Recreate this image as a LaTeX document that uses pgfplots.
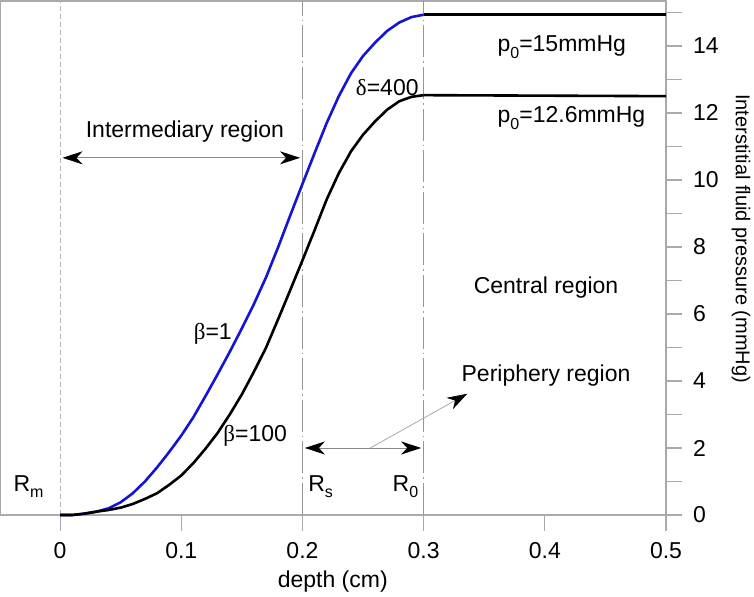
\documentclass[border=0pt]{standalone}
\usepackage{pgfplots}
\pgfplotsset{compat=1.18}
\usepackage{fontspec}
\setmainfont{Liberation Sans}
\newfontfamily\grk{Liberation Serif}
\usetikzlibrary{arrows.meta}
\newcommand\sub[1]{\raisebox{-0.55ex}{\fontsize{8}{9}\selectfont #1}}
\definecolor{framegray}{RGB}{170,170,170}
\definecolor{dashgray}{RGB}{150,150,150}
\definecolor{curveblue}{RGB}{20,20,210}
\begin{document}
\begin{tikzpicture}[font=\fontsize{11.5}{13.8}\selectfont]
\begin{axis}[
  scale only axis,
  width=333pt, height=257pt,
  xmin=-0.0496, xmax=0.5,
  ymin=0, ymax=15.34,
  axis line style={framegray, line width=0.8pt},
  tick style={framegray, line width=0.6pt},
  tick align=outside,
  major tick length=8pt,
  minor tick length=8pt,
  xtick={0,0.1,0.2,0.3,0.4,0.5},
  xticklabels={0,0.1,0.2,0.3,0.4,0.5},
  xtick pos=bottom,
  ytick={0,2,4,6,8,10,12,14},
  yticklabels={0,2,4,6,8,10,12,14},
  minor ytick={1,3,5,7,9,11,13,15},
  ytick pos=right,
  yticklabel pos=right,
  xticklabel style={yshift=-2pt},
  yticklabel style={xshift=2pt},
  clip=false,
]
% vertical reference lines
\addplot[dashgray!70, line width=0.5pt, dash pattern=on 2.5pt off 1.5pt] coordinates {(0,0) (0,15.34)};
\addplot[dashgray, line width=0.5pt, dash pattern=on 16pt off 2pt on 0.8pt off 2pt] coordinates {(0.2,0) (0.2,15.34)};
\addplot[dashgray, line width=0.5pt, dash pattern=on 16pt off 2pt on 0.8pt off 2pt] coordinates {(0.3,0) (0.3,15.34)};

% beta = 1 curve (blue)
\addplot[curveblue, line width=1.3pt] coordinates {
(0,0) (0.01,0) (0.02,0.04) (0.03,0.1) (0.04,0.2) (0.05,0.38) (0.06,0.65)
(0.07,1.0) (0.08,1.42) (0.09,1.88) (0.10,2.37) (0.11,2.92) (0.12,3.55)
(0.13,4.2) (0.14,4.87) (0.15,5.57) (0.16,6.3) (0.17,7.1) (0.18,8.0)
(0.19,8.95) (0.20,9.88) (0.21,10.8) (0.22,11.7) (0.23,12.5) (0.24,13.18)
(0.25,13.7) (0.26,14.1) (0.27,14.45) (0.28,14.7) (0.29,14.86) (0.30,14.93)};
% beta = 100 curve (black)
\addplot[black, line width=1.3pt] coordinates {
(0,0) (0.01,0) (0.02,0.04) (0.03,0.1) (0.04,0.15) (0.05,0.22) (0.06,0.33)
(0.07,0.48) (0.08,0.65) (0.09,0.9) (0.10,1.18) (0.11,1.55) (0.12,1.98)
(0.13,2.45) (0.14,3.0) (0.15,3.6) (0.16,4.28) (0.17,5.0) (0.18,5.85)
(0.19,6.72) (0.20,7.6) (0.21,8.5) (0.22,9.42) (0.23,10.2) (0.24,10.85)
(0.25,11.35) (0.26,11.75) (0.27,12.1) (0.28,12.35) (0.29,12.48) (0.30,12.53)};
% plateaus
\addplot[black, line width=1.3pt] coordinates {(0.3,14.93) (0.5,14.93)};
\addplot[black, line width=1.3pt] coordinates {(0.3,12.53) (0.5,12.5)};

% arrows
\draw[framegray!80!black, line width=0.4pt, {Stealth[black,length=10pt,width=6.5pt,inset=3pt]}-{Stealth[black,length=10pt,width=6.5pt,inset=3pt]}]
  (axis cs:0.002,10.66) -- (axis cs:0.198,10.66);
\draw[framegray!80!black, line width=0.4pt, {Stealth[black,length=10pt,width=6.5pt,inset=3pt]}-{Stealth[black,length=10pt,width=6.5pt,inset=3pt]}]
  (axis cs:0.202,2.0) -- (axis cs:0.298,2.0);
\draw[framegray, line width=0.4pt, -{Stealth[black,length=10pt,width=6.5pt,inset=3pt]}]
  (axis cs:0.256,2.0) -- (axis cs:0.336,3.62);

% texts
\node at (axis cs:0.103,11.45) {Intermediary region};
\node at (axis cs:0.27,12.75) {{\grk δ}=400};
\node at (axis cs:0.414,13.97) {p\sub{0}=15mmHg};
\node at (axis cs:0.422,11.85) {p\sub{0}=12.6mmHg};
\node at (axis cs:0.401,6.78) {Central region};
\node at (axis cs:0.401,4.15) {Periphery region};
\node at (axis cs:0.161,2.35) {{\grk β}=100};
\node at (axis cs:0.126,5.4) {{\grk β}=1};
\node at (axis cs:-0.026,0.85) {R\sub{m}};
\node at (axis cs:0.215,0.85) {R\sub{s}};
\node at (axis cs:0.285,0.85) {R\sub{0}};

% axis labels
\node at ([yshift=-33.5pt]axis cs:0.225,0) {depth (cm)};
\node[rotate=-90, font=\fontsize{10}{12}\selectfont] at ([xshift=37.5pt]axis cs:0.5,8.25) {Interstitial fluid pressure (mmHg)};
\end{axis}
\pgfresetboundingbox
\path ([yshift=-40.5pt]current axis.south west) rectangle ([xshift=44pt,yshift=0.5pt]current axis.north east);
\end{tikzpicture}
\end{document}
